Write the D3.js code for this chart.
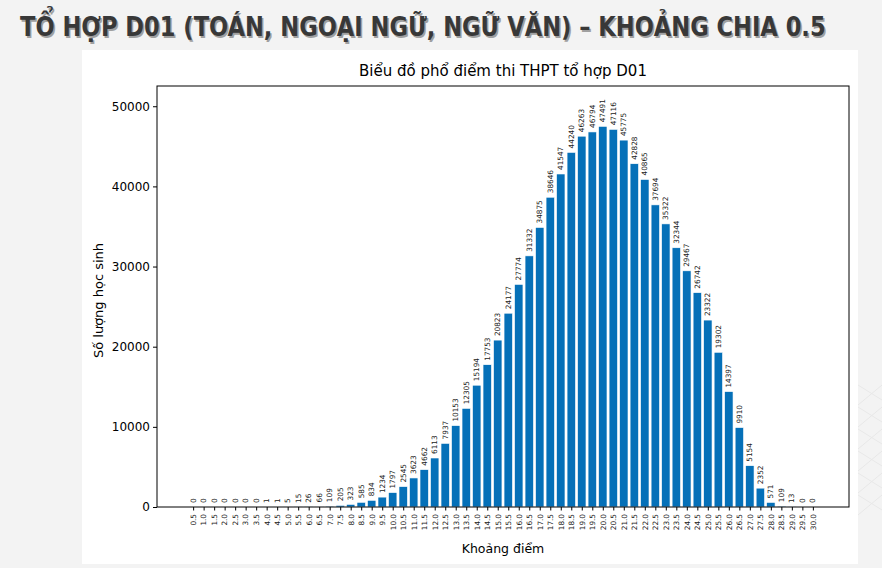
<!DOCTYPE html>
<html><head><meta charset="utf-8">
<script src="https://cdn.jsdelivr.net/npm/d3@7"></script>
<style>
html,body{margin:0;padding:0;background:#f3f3f3;}
svg{display:block;}
</style></head>
<body>
<svg id="c" width="882" height="568"></svg>
<script>
const categories = ["0.5","1.0","1.5","2.0","2.5","3.0","3.5","4.0","4.5","5.0","5.5","6.0","6.5","7.0","7.5","8.0","8.5","9.0","9.5","10.0","10.5","11.0","11.5","12.0","12.5","13.0","13.5","14.0","14.5","15.0","15.5","16.0","16.5","17.0","17.5","18.0","18.5","19.0","19.5","20.0","20.5","21.0","21.5","22.0","22.5","23.0","23.5","24.0","24.5","25.0","25.5","26.0","26.5","27.0","27.5","28.0","28.5","29.0","29.5","30.0"];
const counts = [0,0,0,0,0,0,0,1,1,5,15,26,66,109,205,323,585,834,1234,1797,2545,3623,4662,6113,7937,10153,12305,15194,17753,20823,24177,27774,31332,34875,38646,41547,44240,46263,46794,47491,47116,45775,42828,40865,37694,35322,32344,29467,26742,23322,19302,14397,9910,5154,2352,571,109,13,0,0];
const yTicks = [0,10000,20000,30000,40000,50000];
const pageTitle = "TỔ HỢP D01 (TOÁN, NGOẠI NGỮ, NGỮ VĂN) – KHOẢNG CHIA 0.5";
const chartTitle = "Biểu đồ phổ điểm thi THPT tổ hợp D01";
const xLabel = "Khoảng điểm";
const yLabel = "Số lượng học sinh";

const svg = d3.select("#c");
svg.append("rect").attr("width",882).attr("height",568).attr("fill","#f3f3f3");
// faint decorative pattern at right
const deco = svg.append("g").attr("stroke","#e8e8e8").attr("fill","none").attr("stroke-width",1);
for (let i=0;i<6;i++){
  const y0 = 385 + i*22;
  deco.append("path").attr("d",`M858,${y0+20} L882,${y0} M858,${y0} L882,${y0+15}`);
}
// header title, horizontally condensed via transform so it fits
const hdrFont = "'Liberation Sans Narrow','DejaVu Sans Condensed',sans-serif";
const targetW = 806;
function header(fill, dx, dy){
  const t = svg.append("text").attr("x",0).attr("y",0).text(pageTitle)
    .attr("font-family",hdrFont).attr("font-weight","bold").attr("font-size",27).attr("fill",fill);
  const w = t.node().getComputedTextLength();
  const sx = Math.min(1, targetW / w);
  t.attr("transform",`translate(${20+dx},${36+dy}) scale(${sx},1)`);
}
header("#a0a0a0",1.5,1.5);
header("#383838",0,0);

// white panel
svg.append("rect").attr("x",82).attr("y",50).attr("width",776).attr("height",514).attr("fill","#ffffff");

const L=157, R=849, T=86, B=507;
const xNum = categories.map(Number);
const pad = 1.72;
const x = d3.scaleLinear().domain([xNum[0]-pad, xNum[xNum.length-1]+pad]).range([L,R]);
const ymax = d3.max(counts)*1.106;
const y = d3.scaleLinear().domain([0,ymax]).range([B,T]);
const bw = x(0.4)-x(0);

const g = svg.append("g");
const font = "'DejaVu Sans',sans-serif";

// bars
g.selectAll("rect.bar").data(counts).join("rect").attr("class","bar")
  .attr("x",(d,i)=>x(xNum[i])-bw/2).attr("width",bw)
  .attr("y",d=>y(d)).attr("height",d=>B-y(d))
  .attr("fill","#0570b8").attr("stroke","#ffffff").attr("stroke-width",0.6);

// bar labels
g.selectAll("text.lab").data(counts).join("text").attr("class","lab")
  .attr("transform",(d,i)=>`translate(${x(xNum[i])+2.6},${y(d)-4}) rotate(-90)`)
  .attr("font-family",font).attr("font-size",7.3).attr("fill","#222")
  .attr("text-anchor","start").text(d=>d);

// axes
const xAxis = d3.axisBottom(x).tickValues(xNum).tickFormat((d,i)=>categories[i]).tickSize(3.5).tickSizeOuter(0);
const xa = g.append("g").attr("transform",`translate(0,${B})`).call(xAxis);
xa.select(".domain").remove();
xa.selectAll("line").attr("stroke","#000");
xa.selectAll("text").attr("font-family",font).attr("font-size",7.3).attr("fill","#222")
  .attr("transform","rotate(-90)").attr("text-anchor","end").attr("x",-7).attr("y",0).attr("dy","0.32em");

const yAxis = d3.axisLeft(y).tickValues(yTicks).tickFormat(d3.format("d")).tickSize(4).tickSizeOuter(0);
const ya = g.append("g").attr("transform",`translate(${L},0)`).call(yAxis);
ya.select(".domain").remove();
ya.selectAll("line").attr("stroke","#000");
ya.selectAll("text").attr("font-family",font).attr("font-size",12).attr("fill","#000").attr("x",-7);

// frame
g.append("rect").attr("x",L).attr("y",T).attr("width",R-L).attr("height",B-T)
  .attr("fill","none").attr("stroke","#000").attr("stroke-width",1);

// titles
g.append("text").attr("x",(L+R)/2).attr("y",T-10).attr("text-anchor","middle")
  .attr("font-family",font).attr("font-size",15).attr("fill","#000").text(chartTitle);
g.append("text").attr("x",(L+R)/2).attr("y",553).attr("text-anchor","middle")
  .attr("font-family",font).attr("font-size",12.5).attr("fill","#000").text(xLabel);
g.append("text").attr("transform",`translate(103,${(T+B)/2+4}) rotate(-90)`).attr("text-anchor","middle")
  .attr("font-family",font).attr("font-size",13).attr("fill","#000").text(yLabel);
</script>
</body></html>
